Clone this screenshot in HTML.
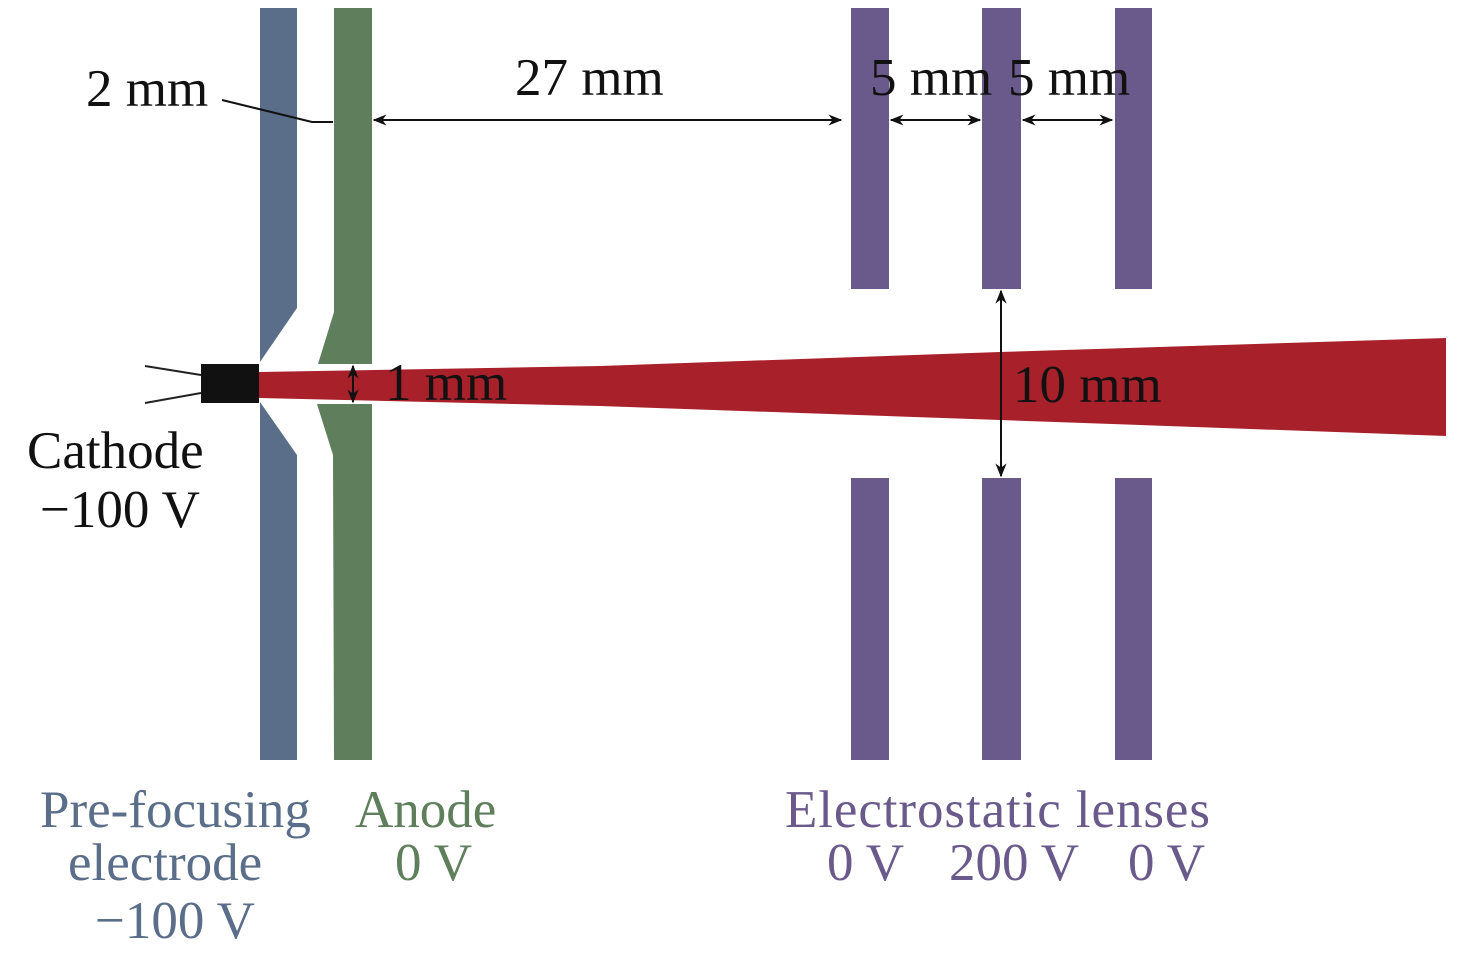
<!DOCTYPE html>
<html><head><meta charset="utf-8"><style>body{margin:0;background:#fff}svg{display:block}</style></head><body>
<svg width="1476" height="956" viewBox="0 0 1476 956" xmlns="http://www.w3.org/2000/svg" font-family="Liberation Serif, serif" font-size="53">
<defs>
<marker id="a" viewBox="0 0 10 10" refX="9" refY="5" markerWidth="7" markerHeight="7" orient="auto-start-reverse"><path d="M0,1 L10,5 L0,9 L3,5z" fill="#111"/></marker>
</defs>
<polygon points="259,372 600,366 1000,352 1446,338 1446,436 1000,420 600,406 259,398" fill="#a8202a"/>
<polygon points="260,8 297,8 297,308 260,362" fill="#5a6e8a"/>
<polygon points="260,402 297,455 297,760 260,760" fill="#5a6e8a"/>
<polygon points="334,8 372,8 372,364 318,364 334,312" fill="#5f7f5c"/>
<polygon points="317,404 372,404 372,760 334,760 333,455" fill="#5f7f5c"/>
<g fill="#6a5a8c">
<rect x="851" y="8" width="38" height="281"/><rect x="982" y="8" width="39" height="281"/><rect x="1115" y="8" width="37" height="281"/>
<rect x="851" y="478" width="38" height="282"/><rect x="982" y="478" width="39" height="282"/><rect x="1115" y="478" width="37" height="282"/>
</g>
<rect x="201" y="364" width="58" height="39" fill="#111"/>
<line x1="145" y1="366" x2="201" y2="375" stroke="#222" stroke-width="2"/>
<line x1="145" y1="403" x2="201" y2="393" stroke="#222" stroke-width="2"/>
<g stroke="#111" stroke-width="2" fill="none">
<line x1="374" y1="120" x2="841" y2="120" marker-start="url(#a)" marker-end="url(#a)"/>
<line x1="891" y1="120" x2="980" y2="120" marker-start="url(#a)" marker-end="url(#a)"/>
<line x1="1023" y1="120" x2="1112" y2="120" marker-start="url(#a)" marker-end="url(#a)"/>
<line x1="1001" y1="291" x2="1001" y2="476" marker-start="url(#a)" marker-end="url(#a)"/>
<line x1="353" y1="366" x2="353" y2="402" marker-start="url(#a)" marker-end="url(#a)"/>
<polyline points="222,100 312,122 333,122"/>
</g>
<g fill="#111">
<text x="86" y="106">2 mm</text>
<text x="515" y="95">27 mm</text>
<text x="870" y="95">5 mm</text>
<text x="1008" y="95">5 mm</text>
<text x="385" y="400">1 mm</text>
<text x="1013" y="402">10 mm</text>
<text x="27" y="468">Cathode</text>
<text x="40" y="527">−100 V</text>
</g>
<g fill="#5a6e8a"><text x="40" y="827">Pre-focusing</text><text x="68" y="880">electrode</text><text x="95" y="938">−100 V</text></g>
<g fill="#5f7f5c"><text x="355" y="827">Anode</text><text x="395" y="880">0 V</text></g>
<g fill="#6a5a8c"><text x="785" y="827" textLength="425">Electrostatic lenses</text><text x="827" y="880">0 V</text><text x="949" y="880">200 V</text><text x="1128" y="880">0 V</text></g>
</svg>
</body></html>
